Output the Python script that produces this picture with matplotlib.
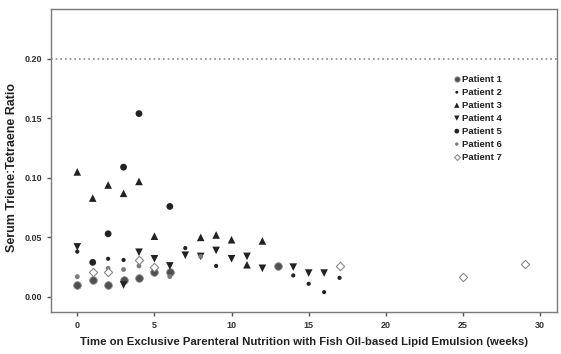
import matplotlib
matplotlib.use("Agg")
import matplotlib.pyplot as plt

plt.rcParams["font.family"] = ["Liberation Sans Narrow", "Liberation Sans", "DejaVu Sans"]

# ── Data (weeks, triene:tetraene ratio) ───────────────────────────────────
p1_x = [0, 1, 2, 3, 4, 5, 6, 13]
p1_y = [0.010, 0.014, 0.010, 0.014, 0.016, 0.021, 0.021, 0.026]
p2_x = [0, 2, 3, 7, 9, 14, 15, 16, 17]
p2_y = [0.038, 0.032, 0.031, 0.041, 0.026, 0.018, 0.011, 0.004, 0.016]
p3_x = [0, 1, 2, 3, 4, 5, 8, 9, 10, 11, 12]
p3_y = [0.105, 0.083, 0.094, 0.087, 0.097, 0.051, 0.050, 0.052, 0.048, 0.027, 0.047]
p4_x = [0, 3, 4, 5, 6, 7, 8, 9, 10, 11, 12, 14, 15, 16]
p4_y = [0.042, 0.010, 0.0375, 0.032, 0.026, 0.035, 0.034, 0.039, 0.032, 0.034,
        0.024, 0.025, 0.020, 0.020]
p5_x = [1, 2, 3, 4, 6]
p5_y = [0.029, 0.053, 0.109, 0.154, 0.076]
p6_x = [0, 2, 3, 4, 5, 6, 8]
p6_y = [0.017, 0.024, 0.023, 0.026, 0.025, 0.017, 0.034]
p7_x = [1, 2, 4, 5, 17, 25, 29]
p7_y = [0.021, 0.021, 0.031, 0.025, 0.026, 0.017, 0.028]

labels = ["Patient 1", "Patient 2", "Patient 3", "Patient 4",
          "Patient 5", "Patient 6", "Patient 7"]

INK = "#222222"

fig = plt.figure(figsize=(5.61, 3.54), dpi=100)
ax = fig.add_axes([0.091, 0.119, 0.902, 0.856])

styles = [
    dict(marker="o", s=30, c="#505050", edgecolors="#8a8a8a", linewidths=0.6),
    dict(marker="o", s=9, c=INK, edgecolors="none"),
    dict(marker="^", s=30, c=INK, edgecolors="none"),
    dict(marker="v", s=30, c=INK, edgecolors="none"),
    dict(marker="o", s=24, c=INK, edgecolors="none"),
    dict(marker="o", s=12, c="#7a7a7a", edgecolors="none"),
    dict(marker="D", s=18, c="white", edgecolors="#8a8a8a", linewidths=0.8),
]
series = [(p1_x, p1_y), (p2_x, p2_y), (p3_x, p3_y), (p4_x, p4_y),
          (p5_x, p5_y), (p6_x, p6_y), (p7_x, p7_y)]

for (xs, ys), st, lab in zip(series, styles, labels):
    ax.scatter(xs, ys, label=lab, zorder=3, **st)

ax.axhline(0.20, color="#8a8a8a", linestyle=(0, (1.0, 1.8)), linewidth=1.2, zorder=1)

ax.set_xlim(-1.7, 31.1)
ax.set_ylim(-0.0126, 0.242)
ax.set_xticks([0, 5, 10, 15, 20, 25, 30])
ax.set_yticks([0.00, 0.05, 0.10, 0.15, 0.20])
ax.set_yticklabels(["0.00", "0.05", "0.10", "0.15", "0.20"])

for sp in ax.spines.values():
    sp.set_color("#7a7a7a")
    sp.set_linewidth(1.0)
ax.tick_params(axis="both", length=3, width=1.0, color="#555555",
               labelsize=6.5, labelcolor="#333333")
for t in ax.get_xticklabels() + ax.get_yticklabels():
    t.set_fontweight("bold")

ax.set_xlabel("Time on Exclusive Parenteral Nutrition with Fish Oil-based Lipid Emulsion (weeks)",
              fontsize=8.2, fontweight="bold", color=INK, labelpad=5)
ax.set_ylabel("Serum Triene:Tetraene Ratio", fontsize=9, fontweight="bold",
              color=INK, labelpad=5)
ax.yaxis.set_label_coords(-0.065, 0.475)

leg = ax.legend(loc="upper left", bbox_to_anchor=(0.785, 0.795), frameon=False,
                fontsize=6.8, handletextpad=0.1, labelspacing=0.42,
                borderaxespad=0, handlelength=1.0, scatterpoints=1,
                markerscale=0.7)
for t in leg.get_texts():
    t.set_fontweight("bold")
    t.set_color(INK)

fig.savefig("out.png", dpi=100, facecolor="white")
